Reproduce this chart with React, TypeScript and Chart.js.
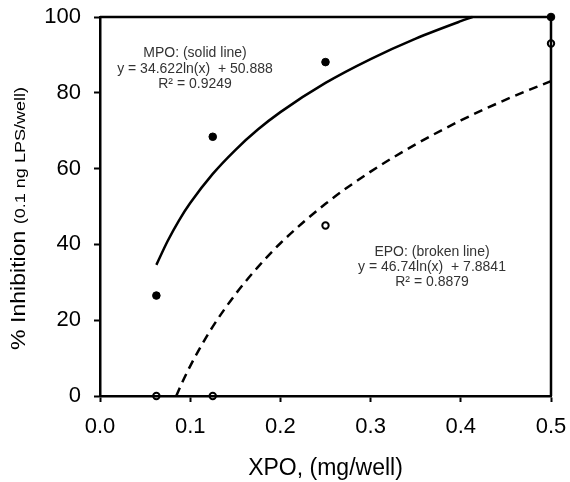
import React, { useEffect, useRef } from 'react';
import { Chart, registerables } from 'chart.js';

Chart.register(...registerables);

// ---- data ----
const xMin = 0;
const xMax = 0.5;
const xStep = 0.1;
const yMin = 0;
const yMax = 100;
const yStep = 20;

const mpoX = [0.0625, 0.125, 0.25, 0.5];
const mpoY = [26.5, 68.4, 88.1, 100];
const epoX = [0.0625, 0.125, 0.25, 0.5];
const epoY = [0, 0, 45, 93];

// trend lines
const mpoFitX = [0.0625, 0.075, 0.0875, 0.1, 0.125, 0.15, 0.175, 0.2, 0.25, 0.3, 0.35, 0.4, 0.413];
const mpoFitY = [34.6, 40.9, 46.3, 50.9, 58.6, 64.9, 70.3, 74.9, 82.6, 88.9, 94.3, 98.9, 100];
const epoFitX = [0.0845, 0.09, 0.1, 0.11, 0.125, 0.15, 0.175, 0.2, 0.25, 0.3, 0.35, 0.4, 0.45, 0.5];
const epoFitY = [0, 3.0, 7.9, 12.3, 18.3, 26.8, 34.0, 40.3, 50.7, 59.2, 66.4, 72.7, 78.2, 83.1];

const mpoLabel = ['MPO: (solid line)', 'y = 34.622ln(x)  + 50.888', 'R\u00b2 = 0.9249'];
const epoLabel = ['EPO: (broken line)', 'y = 46.74ln(x)  + 7.8841', 'R\u00b2 = 0.8879'];
const xTitle = 'XPO, (mg/well)';
const yTitleMain = '% Inhibition ';
const yTitleSub = '(0.1 ng LPS/well)';

const FONT = '"Liberation Sans", Arial, sans-serif';

const pts = (xs: number[], ys: number[]) => xs.map((x, i) => ({ x, y: ys[i] }));

const decorPlugin = {
  id: 'decor',
  afterDraw(chart: any) {
    const { ctx, chartArea } = chart;
    const { left, right, top, bottom } = chartArea;
    ctx.save();
    // frame top/right
    ctx.strokeStyle = '#000';
    ctx.lineWidth = 2.5;
    ctx.beginPath();
    ctx.moveTo(left, top);
    ctx.lineTo(right, top);
    ctx.lineTo(right, bottom);
    ctx.stroke();

    // annotations
    ctx.fillStyle = '#333';
    ctx.font = `14px ${FONT}`;
    ctx.textAlign = 'center';
    ctx.textBaseline = 'middle';
    const mY = [53, 69, 84];
    mpoLabel.forEach((t, i) => ctx.fillText(t, 195, mY[i]));
    const eY = [252, 267, 282];
    epoLabel.forEach((t, i) => ctx.fillText(t, 432, eY[i]));

    // x title
    ctx.fillStyle = '#000';
    ctx.font = `23px ${FONT}`;
    ctx.textBaseline = 'middle';
    ctx.fillText(xTitle, (left + right) / 2, 469);

    // y title (rotated)
    ctx.translate(25, 350);
    ctx.rotate(-Math.PI / 2);
    ctx.textAlign = 'left';
    ctx.textBaseline = 'alphabetic';
    ctx.font = `21px ${FONT}`;
    const w1 = ctx.measureText(yTitleMain).width * 1.1;
    ctx.save();
    ctx.scale(1.1, 1);
    ctx.fillText(yTitleMain, 0, 0);
    ctx.restore();
    ctx.font = `15px ${FONT}`;
    ctx.save();
    ctx.translate(w1, 0);
    ctx.scale(1.2, 1);
    ctx.fillText(yTitleSub, 0, 0);
    ctx.restore();
    ctx.restore();
  },
};

export default function App() {
  const ref = useRef<HTMLCanvasElement>(null);
  useEffect(() => {
    if (!ref.current) return;
    const chart = new Chart(ref.current, {
      type: 'scatter',
      data: {
        datasets: [
          {
            label: 'MPO fit',
            data: pts(mpoFitX, mpoFitY),
            showLine: true,
            borderColor: '#000',
            borderWidth: 2.5,
            pointRadius: 0,
            cubicInterpolationMode: 'monotone',
          } as any,
          {
            label: 'EPO fit',
            data: pts(epoFitX, epoFitY),
            showLine: true,
            borderColor: '#000',
            borderWidth: 2.5,
            borderDash: [9, 6],
            pointRadius: 0,
            cubicInterpolationMode: 'monotone',
          } as any,
          {
            label: 'MPO',
            data: pts(mpoX, mpoY),
            pointRadius: 3.8,
            pointBackgroundColor: '#000',
            pointBorderColor: '#000',
            pointBorderWidth: 1,
          },
          {
            label: 'EPO',
            data: pts(epoX, epoY),
            pointRadius: 3.2,
            pointBackgroundColor: 'rgba(0,0,0,0)',
            pointBorderColor: '#000',
            pointBorderWidth: 2,
          },
        ],
      },
      options: {
        animation: false,
        responsive: false,
        devicePixelRatio: 1,
        clip: false as any,
        layout: { padding: { left: 0, top: 17, right: 19, bottom: 0 } },
        plugins: { legend: { display: false }, tooltip: { enabled: false } },
        scales: {
          x: {
            type: 'linear',
            min: xMin,
            max: xMax,
            afterFit: (s: any) => { s.height = 86; s.paddingLeft = 0; s.paddingRight = 0; },
            ticks: {
              stepSize: xStep,
              color: '#000',
              font: { family: FONT, size: 22 },
              padding: 12,
              callback: (v: any) => Number(v).toFixed(1),
            },
            grid: { drawOnChartArea: false, drawTicks: true, tickLength: 6, tickWidth: 2, tickColor: '#000' },
            border: { display: true, color: '#000', width: 2.5 },
          },
          y: {
            type: 'linear',
            min: yMin,
            max: yMax,
            afterFit: (s: any) => { s.width = 100; s.paddingTop = 0; s.paddingBottom = 0; },
            ticks: {
              stepSize: yStep,
              color: '#000',
              font: { family: FONT, size: 22 },
              padding: 13,
            },
            grid: { drawOnChartArea: false, drawTicks: true, tickLength: 6, tickWidth: 2, tickColor: '#000' },
            border: { display: true, color: '#000', width: 2.5 },
          },
        },
      },
      plugins: [decorPlugin],
    });
    return () => chart.destroy();
  }, []);
  return (
    <div style={{ position: 'fixed', left: 0, top: 0, width: 570, height: 482, background: '#fff' }}>
      <canvas ref={ref} width={570} height={482} style={{ width: 570, height: 482 }} />
    </div>
  );
}
